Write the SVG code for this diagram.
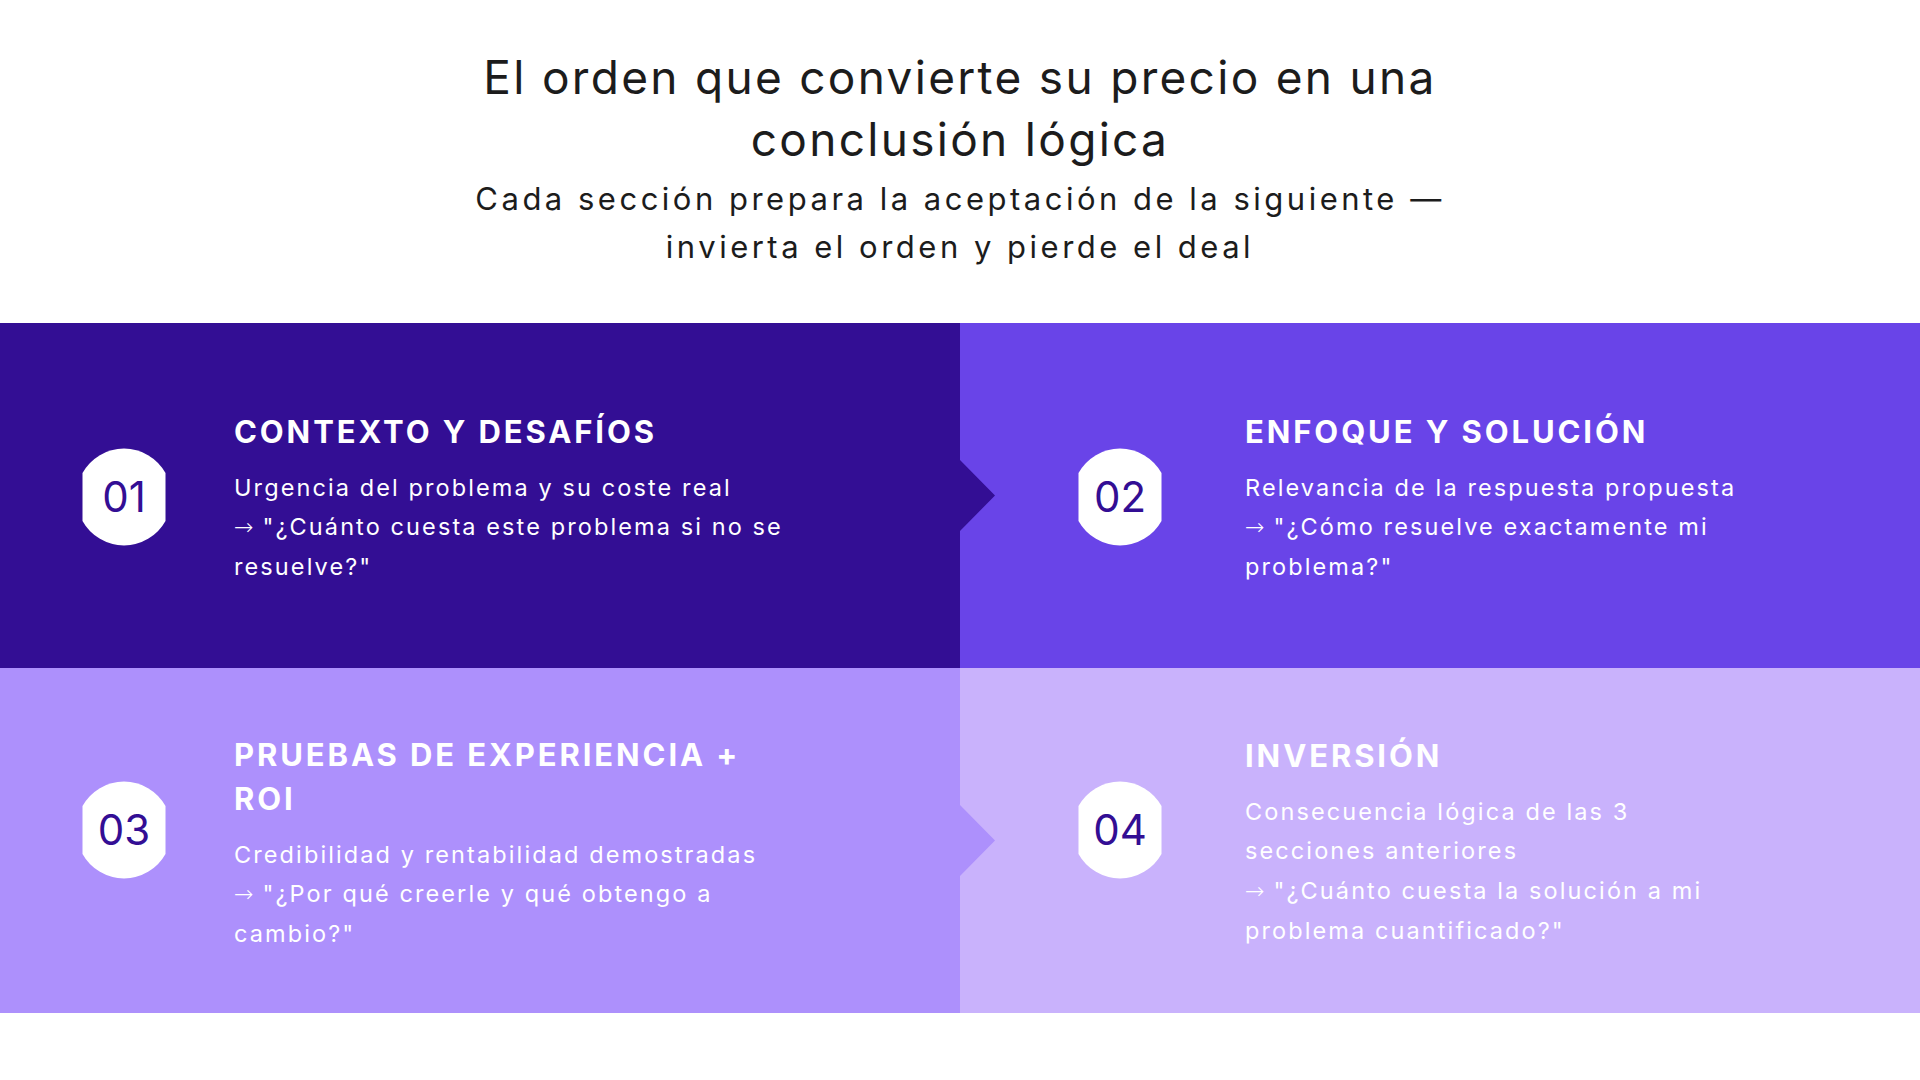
<svg xmlns="http://www.w3.org/2000/svg" width="1920" height="1080" viewBox="0 0 1920 1080">
<defs>
<style>
.title{font-family:Inter,"Noto Sans","DejaVu Sans",sans-serif;font-size:46px;fill:#1c1c1c;text-anchor:middle;letter-spacing:2.3px}
.sub{font-family:Inter,"Noto Sans","DejaVu Sans",sans-serif;font-size:31px;fill:#1c1c1c;text-anchor:middle;letter-spacing:3.5px}
.head{font-family:Inter,"Noto Sans","DejaVu Sans",sans-serif;font-size:31px;font-weight:700;fill:#ffffff;letter-spacing:2.9px}
.body{font-family:Inter,"Noto Sans","DejaVu Sans",sans-serif;font-size:23.5px;fill:#ffffff;letter-spacing:2.1px}
.arr{font-family:"DejaVu Sans",sans-serif;font-weight:300;letter-spacing:0px}
.num{font-family:Inter,"Noto Sans","DejaVu Sans",sans-serif;font-size:42px;fill:#330E94;text-anchor:middle}
.badge{fill:#ffffff}
</style>
<path id="badgeShape" d="M -41.5,-24 A 47.5 47.5 0 0 1 41.5,-24 L 41.5,24 A 47.5 47.5 0 0 1 -41.5,24 Z"/>
</defs>
<rect width="1920" height="1080" fill="#ffffff"/>
<g id="header">
<text class="title" x="960" y="94">El orden que convierte su precio en una</text>
<text class="title" x="960" y="156">conclusión lógica</text>
<text class="sub" x="960" y="210">Cada sección prepara la aceptación de la siguiente —</text>
<text class="sub" x="960" y="258">invierta el orden y pierde el deal</text>
</g>
<g id="panel2">
<rect x="960" y="323" width="960" height="345" fill="#6944E8"/>
<use href="#badgeShape" class="badge" x="1120" y="497"/>
<text class="num" x="1120" y="512">02</text>
<text class="head" x="1245" y="443">ENFOQUE Y SOLUCIÓN</text>
<text class="body" x="1245" y="496">Relevancia de la respuesta propuesta</text>
<text class="body" x="1245" y="535"><tspan class="arr">→</tspan> "¿Cómo resuelve exactamente mi</text>
<text class="body" x="1245" y="575">problema?"</text>
</g>
<g id="panel4">
<rect x="960" y="668" width="960" height="345" fill="#C9B2FC"/>
<use href="#badgeShape" class="badge" x="1120" y="830"/>
<text class="num" x="1120" y="845">04</text>
<text class="head" x="1245" y="767">INVERSIÓN</text>
<text class="body" x="1245" y="820">Consecuencia lógica de las 3</text>
<text class="body" x="1245" y="859">secciones anteriores</text>
<text class="body" x="1245" y="899"><tspan class="arr">→</tspan> "¿Cuánto cuesta la solución a mi</text>
<text class="body" x="1245" y="939">problema cuantificado?"</text>
</g>
<g id="panel1">
<path d="M 0,323 H 960 V 460 L 995,495.5 L 960,531 V 668 H 0 Z" fill="#330E94"/>
<use href="#badgeShape" class="badge" x="124" y="497"/>
<text class="num" x="124" y="512">01</text>
<text class="head" x="234" y="443">CONTEXTO Y DESAFÍOS</text>
<text class="body" x="234" y="496">Urgencia del problema y su coste real</text>
<text class="body" x="234" y="535"><tspan class="arr">→</tspan> "¿Cuánto cuesta este problema si no se</text>
<text class="body" x="234" y="575">resuelve?"</text>
</g>
<g id="panel3">
<path d="M 0,668 H 960 V 805 L 995,840.5 L 960,876 V 1013 H 0 Z" fill="#AD90FC"/>
<use href="#badgeShape" class="badge" x="124" y="830"/>
<text class="num" x="124" y="845">03</text>
<text class="head" x="234" y="766">PRUEBAS DE EXPERIENCIA +</text>
<text class="head" x="234" y="810">ROI</text>
<text class="body" x="234" y="863">Credibilidad y rentabilidad demostradas</text>
<text class="body" x="234" y="902"><tspan class="arr">→</tspan> "¿Por qué creerle y qué obtengo a</text>
<text class="body" x="234" y="942">cambio?"</text>
</g>
<g id="connectors"></g>
</svg>
